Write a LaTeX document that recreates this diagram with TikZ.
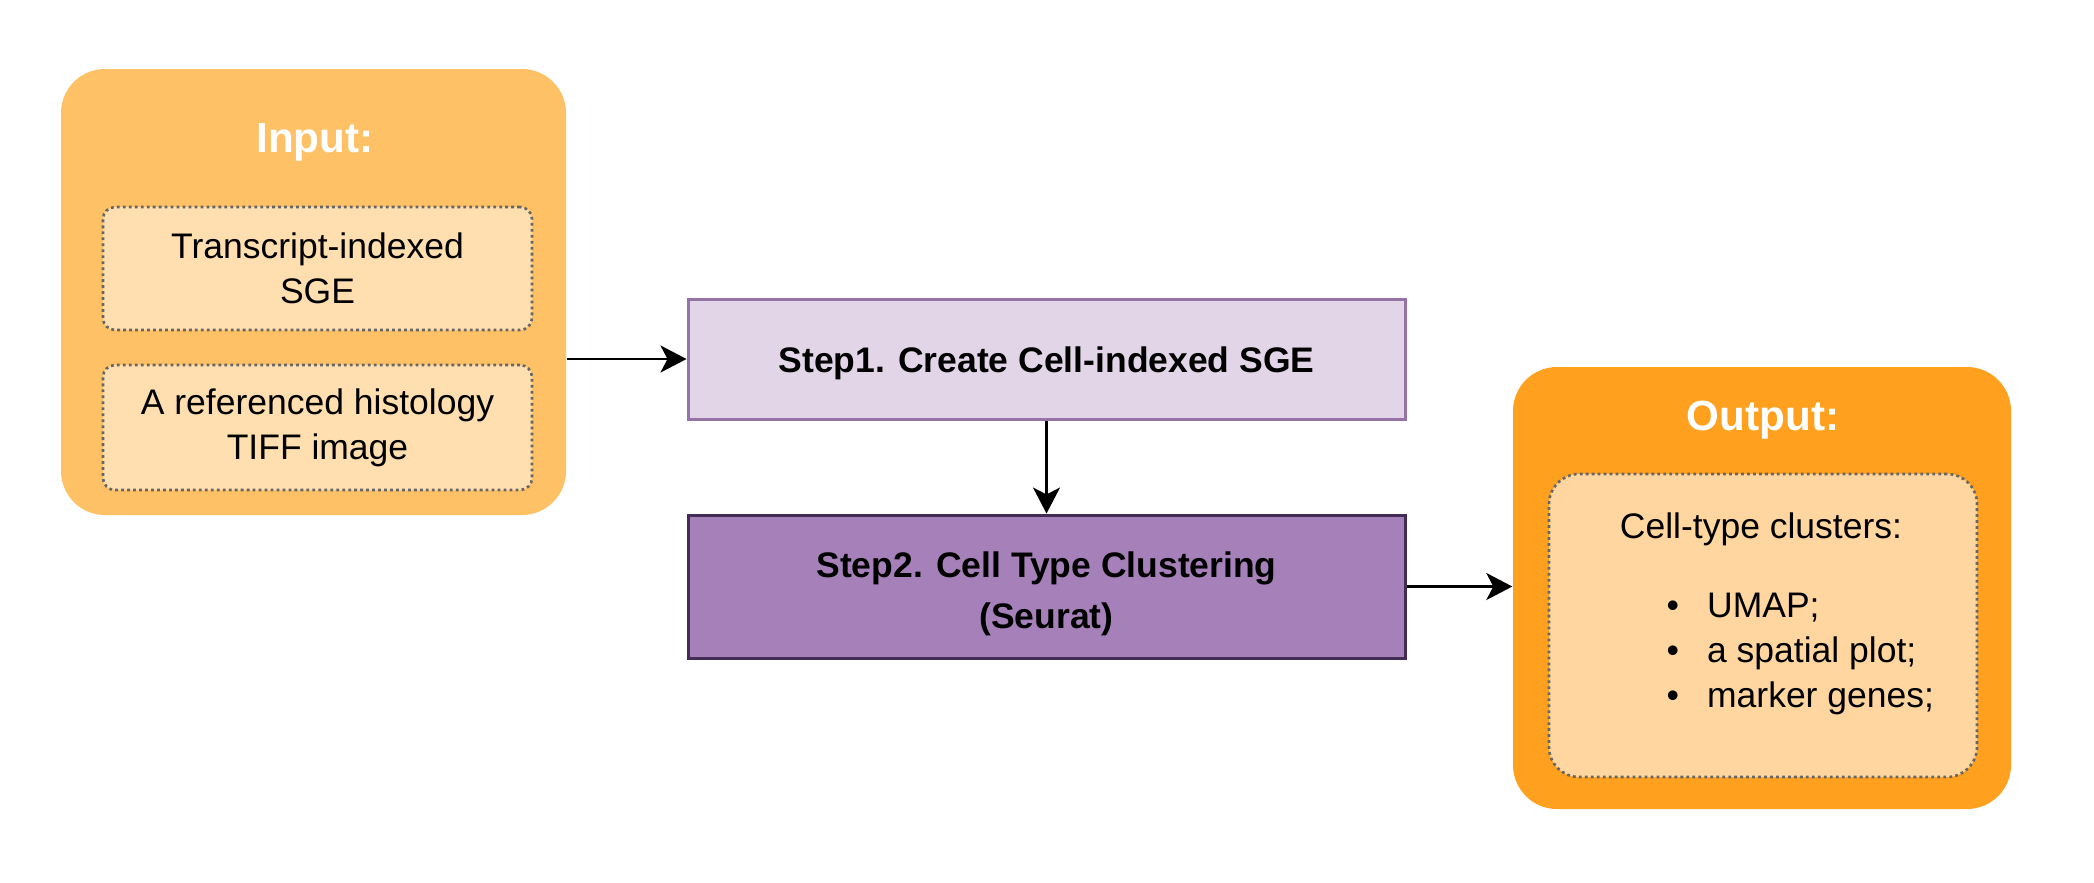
\documentclass[tikz,border=0pt]{standalone}
\usepackage{fontspec}
\setmainfont{Liberation Sans}
\usetikzlibrary{arrows.meta}

\definecolor{inputbg}{HTML}{FFC166}
\definecolor{inputitem}{HTML}{FFDEB0}
\definecolor{outputbg}{HTML}{FFA01F}
\definecolor{outputitem}{HTML}{FFD6A0}
\definecolor{steponefill}{HTML}{E1D5E7}
\definecolor{steponeline}{HTML}{9673A6}
\definecolor{steptwofill}{HTML}{A680B8}
\definecolor{steptwoline}{HTML}{432D57}
\definecolor{dotline}{HTML}{666666}

\begin{document}
\begin{tikzpicture}[every node/.style={font=\fontsize{10.1pt}{12.8pt}\selectfont, inner sep=0pt},
  panel/.style={rounded corners=0.44cm},
  item/.style={draw=dotline, line width=0.75pt, dash pattern=on 0.8pt off 0.9pt, rounded corners=0.12cm, fill=inputitem, align=center},
  stepbox/.style={line width=0.85pt, minimum width=7.17cm, font=\fontsize{10.1pt}{14.3pt}\selectfont\bfseries},
  title/.style={text=white, font=\fontsize{12pt}{14pt}\selectfont\bfseries},
  arr/.style={-{Stealth[length=0.26cm, width=0.27cm, inset=0.07cm]}, line width=0.75pt}]
  \useasboundingbox (0,0) rectangle (20.94,8.82);
  % input side
  \node[panel, fill=inputbg, minimum width=5.05cm, minimum height=4.46cm] (input) at (3.135,5.90) {};
  \node[title] (inputtitle) at (3.15,7.40) {Input:};
  \node[item, minimum width=4.29cm, minimum height=1.23cm] (transcript) at (3.175,6.135) {Transcript-indexed\\SGE};
  \node[item, minimum width=4.29cm, minimum height=1.25cm] (histology) at (3.175,4.545) {A referenced histology\\TIFF image};
  % the two steps
  \node[stepbox, fill=steponefill, draw=steponeline, minimum height=1.20cm] (step1) at (10.465,5.23)
    {\raisebox{-0.04cm}[\height][\depth]{Step1. Create Cell-indexed SGE}};
  \node[stepbox, fill=steptwofill, draw=steptwoline, minimum height=1.43cm] (step2) at (10.465,2.955)
    {\raisebox{-0.065cm}[\height][\depth]{\begin{tabular}{@{}c@{}}Step2. Cell Type Clustering\\(Seurat)\end{tabular}}};
  % output side
  \node[panel, fill=outputbg, minimum width=4.98cm, minimum height=4.42cm] (output) at (17.62,2.94) {};
  \node[title] (outputtitle) at (17.63,4.62) {Output:};
  \node[item, fill=outputitem, rounded corners=0.3cm, minimum width=4.28cm, minimum height=3.03cm] (clusters) at (17.63,2.565) {};
  \node[anchor=base] (clusterhead) at (17.61,3.44) {Cell-type clusters:};
  \node[anchor=west, align=left] (clusterlist) at (16.66,2.28) {•\hspace{0.28cm}UMAP;\\•\hspace{0.28cm}a spatial plot;\\•\hspace{0.28cm}marker genes;};
  % connectors
  \draw[arr] (input.east |- step1.west) -- (step1.west);
  \draw[arr] (step1) -- (step2);
  \draw[arr] (step2.east) -- (step2.east -| output.west);
\end{tikzpicture}
\end{document}
